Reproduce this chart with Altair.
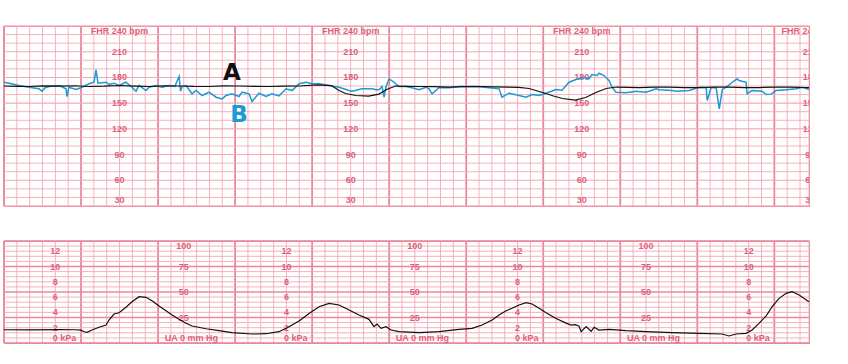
import altair as alt
import pandas as pd

# ---------------- data (time in seconds, FHR in bpm, UA in mmHg) ----------------
fhr_a_t = [0, 10, 20, 30, 43, 55, 66, 78, 90, 102, 113, 125, 136, 148, 160, 171, 183, 195, 206, 218,
           230, 245, 255, 261, 266, 274, 284, 292, 298, 305, 314, 323, 335, 347, 358, 370, 382, 393,
           401, 409, 415, 422, 428, 435, 445, 453, 461, 469, 477, 486, 495, 506, 518, 530, 541, 553,
           565, 577, 588, 600, 612, 620, 627]
fhr_a_bpm = [170.0, 169.6, 169.4, 170.1, 169.9, 170.3, 169.4, 169.8, 170.6, 169.9, 169.4, 170.1, 170.0,
             169.5, 169.4, 170.2, 170.0, 169.6, 169.4, 169.9, 170.0, 171.2, 170.5, 164.7, 161.2, 158.9,
             158.3, 160.6, 165.9, 170.0, 169.6, 169.4, 169.2, 168.8, 169.3, 169.4, 168.9, 168.8, 168.3,
             167.1, 164.5, 161.2, 158.3, 155.4, 153.6, 156.6, 162.4, 167.1, 168.8, 168.4, 168.2, 168.6,
             168.8, 168.2, 168.2, 168.6, 168.8, 168.2, 168.2, 168.6, 168.8, 168.3, 168.2]

fhr_b_t = [0, 3.9, 11.7, 19.5, 27.3, 29.6, 32, 35, 42.9, 48.3, 49.1, 50.6, 56.1, 60.8, 66.2, 70.1, 71.7,
           73.2, 79.5, 81.8, 85.7, 89.6, 95, 99.7, 102.8, 105.2, 110.6, 113, 118.4, 123.1, 128.5, 133,
           136.4, 137.5, 138.7, 141.8, 146.5, 149.6, 154.3, 159.7, 165.2, 169.9, 173, 177.6, 183.1,
           185.4, 190.9, 193.2, 198.6, 204.1, 208.8, 214.2, 219.7, 224.4, 229.8, 235.3, 239.9, 245.4,
           253.2, 261, 268.8, 271.1, 278.9, 286.7, 289.8, 292.1, 294.5, 296, 297.6, 300, 303.8, 307.7,
           313.2, 317.8, 323.3, 328.7, 331, 333.4, 338.8, 346.6, 354.4, 362.2, 370, 377.8, 385.6,
           387.9, 393.4, 401.2, 406.6, 411.3, 416.7, 422.2, 430, 434.6, 440.1, 445.5, 451.8, 455.6,
           458, 461.9, 463.4, 467.3, 471.2, 473.6, 476.7, 484.5, 492.3, 500.1, 507.9, 510.2, 520.4,
           523.5, 533.6, 541.5, 546.9, 547.7, 550.8, 554.7, 557.1, 559.5, 562.6, 567.3, 571, 572.6,
           578, 578.8, 582.7, 590.5, 593.6, 597.5, 601.4, 609.2, 617, 621.7, 625.6, 627]
fhr_b_bpm = [174.4, 173.3, 170.6, 168.6, 166.7, 163.9, 168.0, 169.4, 170.6, 166.7, 157.7, 168.6, 166.0,
             168.6, 172.6, 174.4, 188.9, 173.3, 174.4, 171.7, 173.3, 170.6, 174.4, 168.6, 163.9, 170.6,
             164.7, 168.6, 170.6, 168.6, 170.6, 169.5, 181.1, 163.9, 169.4, 170.6, 160.9, 164.7, 158.9,
             162.8, 156.9, 155.0, 158.9, 160.9, 157.7, 162.8, 160.9, 152.0, 161.6, 157.7, 160.9, 158.5,
             166.7, 164.7, 172.6, 174.4, 172.6, 172.6, 170.6, 168.6, 164.7, 163.9, 166.7, 166.7, 165.6,
             165.6, 169.4, 157.0, 169.4, 178.4, 174.4, 169.4, 169.4, 167.9, 165.6, 168.6, 166.7, 160.9,
             167.9, 167.9, 169.4, 169.4, 169.4, 167.9, 166.7, 156.9, 161.6, 158.9, 156.9, 160.1, 158.9,
             161.5, 166.0, 165.0, 174.4, 177.6, 180.3, 178.4, 183.4, 182.2, 184.9, 182.2, 176.4, 168.6,
             162.8, 162.0, 163.9, 162.8, 166.7, 165.6, 164.7, 163.9, 164.7, 168.6, 167.9, 153.1, 167.9,
             167.9, 143.4, 166.0, 168.6, 174.4, 178.4, 176.4, 174.4, 160.9, 164.7, 163.9, 160.0, 160.5,
             164.7, 165.6, 166.7, 168.6, 166.7, 166.0]

ua_t = [0, 19.5, 42.9, 55, 60, 62.3, 64.7, 68.6, 74, 79.5, 81.8, 85.7, 89.6, 95, 99.7, 105.2, 110.6,
        115.3, 120.7, 126.2, 130.9, 136.3, 141.8, 146.5, 157.4, 167.5, 177.6, 193.2, 204.1, 214.2, 222,
        229.8, 237.6, 245.4, 253.2, 261, 268.8, 276.5, 284.3, 288.2, 290.6, 293.7, 297.6, 301.5, 307.7,
        323.3, 338.9, 354.4, 364.6, 372.4, 380.2, 385.6, 391.1, 395.7, 401.2, 406.6, 411.3, 416.8,
        422.2, 430, 437.8, 441.7, 445, 447.9, 449.5, 453.4, 457.3, 459.6, 463.5, 471.3, 484.5, 500.1,
        520.4, 541.4, 559.3, 564.8, 570.2, 578, 582.7, 588.1, 593.6, 598.3, 603.7, 609.2, 613.9, 619.3,
        627]
ua_mmhg = [13.0, 12.8, 13.2, 13.0, 12.6, 11.0, 10.5, 12.7, 15.4, 17.6, 22.5, 28.4, 29.7, 35.0, 40.5,
           45.4, 44.8, 41.5, 36.3, 31.7, 27.5, 23.2, 19.3, 16.7, 14.0, 12.1, 10.1, 8.8, 9.1, 11.1, 16.0,
           21.5, 29.0, 35.5, 38.9, 37.3, 32.4, 27.5, 23.2, 16.0, 18.6, 14.4, 16.0, 12.7, 11.1, 10.1, 11.1,
           13.4, 14.4, 17.6, 22.5, 27.5, 31.7, 34.0, 37.3, 39.5, 38.2, 34.0, 29.7, 24.0, 19.5, 17.5,
           18.0, 16.5, 11.1, 16.0, 11.5, 15.4, 12.7, 13.4, 12.1, 11.1, 10.1, 9.5, 8.8, 6.9, 8.8, 9.5,
           12.7, 19.3, 26.5, 35.6, 43.8, 48.7, 50.3, 47.0, 40.5]

fhr_label_text = ["210", "180", "150", "120", "90", "60"]
fhr_label_values = [210, 180, 150, 120, 90, 60]
fhr_label_cols = [90, 270, 450, 628]
kpa_label_text = ["12", "10", "8", "6", "4", "2"]
kpa_label_mmhg = [90, 75, 60, 45, 30, 15]
kpa_cols = [40, 220, 400, 580]
mmhg_label_text = ["100", "75", "50", "25"]
mmhg_label_values = [100, 75, 50, 25]
mmhg_cols = [140, 320, 500]
letters = ["A", "B"]
letters_t = [177.6, 183.0]
letters_bpm = [184.6, 136.7]

# ---------------- styling ----------------
T_MAX = 627
MINOR = "#f4a9b7"
MAJOR = "#ea8799"
TXT = "#de5f7b"
BLUE = "#1b9ad4"
FONT = "Liberation Sans"

xs = alt.Scale(domain=[0, T_MAX], nice=False, zero=False)
ys_top = alt.Scale(domain=[30, 240], nice=False, zero=False)
ys_bot = alt.Scale(domain=[0, 100], nice=False, zero=False)

minor_v = pd.DataFrame({"t": [v for v in range(0, T_MAX, 10) if v % 60 != 0]})
major_v = pd.DataFrame({"t": list(range(0, T_MAX, 60))})


def vgrid():
    a = alt.Chart(minor_v).mark_rule(color=MINOR, strokeWidth=0.9).encode(
        x=alt.X("t:Q", scale=xs, axis=None))
    b = alt.Chart(major_v).mark_rule(color=MAJOR, strokeWidth=1.8).encode(
        x=alt.X("t:Q", scale=xs, axis=None))
    return [a, b]


def hgrid(values, scale, color, width):
    return alt.Chart(pd.DataFrame({"v": values})).mark_rule(color=color, strokeWidth=width).encode(
        y=alt.Y("v:Q", scale=scale, axis=None))


def label_df(cols, texts, values):
    rows = []
    for c in cols:
        for s, v in zip(texts, values):
            rows.append({"t": c, "v": v, "s": s})
    return pd.DataFrame(rows)


def text_layer(df, scale, baseline="middle", align="center", dx=0, dy=0, size=9):
    return alt.Chart(df).mark_text(
        font=FONT, fontSize=size, fontWeight="bold", color=TXT, baseline=baseline,
        align=align, dx=dx, dy=dy, clip=True
    ).encode(x=alt.X("t:Q", scale=xs, axis=None), y=alt.Y("v:Q", scale=scale, axis=None),
             text="s:N")


# ---------------- top panel: FHR ----------------
top_layers = vgrid()
top_layers.append(hgrid([v for v in range(30, 241, 10) if v % 30 != 0], ys_top, MINOR, 0.9))
top_layers.append(hgrid([v for v in range(30, 241, 30)], ys_top, MINOR, 1.1))
top_layers.append(text_layer(label_df(fhr_label_cols, fhr_label_text, fhr_label_values), ys_top))
top_layers.append(text_layer(label_df(fhr_label_cols, ["FHR 240 bpm"], [240]), ys_top,
                             baseline="top", dy=1))
top_layers.append(text_layer(label_df(fhr_label_cols, ["30"], [30]), ys_top,
                             baseline="bottom", dy=-1))

df_a = pd.DataFrame({"t": fhr_a_t, "bpm": fhr_a_bpm})
df_b = pd.DataFrame({"t": fhr_b_t, "bpm": fhr_b_bpm})
line_b = alt.Chart(df_b).mark_line(color=BLUE, strokeWidth=1.5).encode(
    x=alt.X("t:Q", scale=xs, axis=None), y=alt.Y("bpm:Q", scale=ys_top, axis=None))
line_a = alt.Chart(df_a).mark_line(color="#111111", strokeWidth=1.2).encode(
    x=alt.X("t:Q", scale=xs, axis=None), y=alt.Y("bpm:Q", scale=ys_top, axis=None))
top_layers += [line_b, line_a]

df_letters = pd.DataFrame({"t": letters_t, "bpm": letters_bpm, "s": letters})
letter_layer = alt.Chart(df_letters).mark_text(
    font="DejaVu Sans", fontSize=23, fontWeight="bold", baseline="middle", align="center"
).encode(
    x=alt.X("t:Q", scale=xs, axis=None), y=alt.Y("bpm:Q", scale=ys_top, axis=None), text="s:N",
    color=alt.Color("s:N", scale=alt.Scale(domain=letters, range=["#111111", BLUE]), legend=None))
top_layers.append(letter_layer)

top = alt.layer(*top_layers).properties(width=805, height=180)

# ---------------- bottom panel: UA ----------------
bot_layers = vgrid()
bot_layers.append(hgrid([v for v in range(0, 101, 5) if v % 25 != 0], ys_bot, MINOR, 0.9))
bot_layers.append(hgrid([v for v in range(0, 101, 25)], ys_bot, MAJOR, 1.5))
bot_layers.append(text_layer(label_df(kpa_cols, kpa_label_text, kpa_label_mmhg), ys_bot))
bot_layers.append(text_layer(label_df(kpa_cols, ["0 kPa"], [0]), ys_bot,
                             baseline="alphabetic", align="left", dx=-2.5, dy=-2))
bot_layers.append(text_layer(label_df(mmhg_cols, mmhg_label_text[1:], mmhg_label_values[1:]), ys_bot))
bot_layers.append(text_layer(label_df(mmhg_cols, ["100"], [100]), ys_bot, baseline="top", dy=1))
bot_layers.append(text_layer(label_df(mmhg_cols, ["UA 0 mm Hg"], [0]), ys_bot,
                             baseline="alphabetic", align="left", dx=-19, dy=-2))

df_ua = pd.DataFrame({"t": ua_t, "mmhg": ua_mmhg})
bot_layers.append(alt.Chart(df_ua).mark_line(color="#111111", strokeWidth=1.2).encode(
    x=alt.X("t:Q", scale=xs, axis=None), y=alt.Y("mmhg:Q", scale=ys_bot, axis=None)))

bottom = alt.layer(*bot_layers).properties(width=805, height=102)

chart = alt.vconcat(top, bottom, spacing=35, bounds="flush").properties(
    padding={"left": 0, "top": 24, "right": 0, "bottom": 0},
    background="white",
).configure_view(stroke=MAJOR, strokeWidth=1.2)

chart.save("out.html", embed_options={"renderer": "svg", "actions": False})
